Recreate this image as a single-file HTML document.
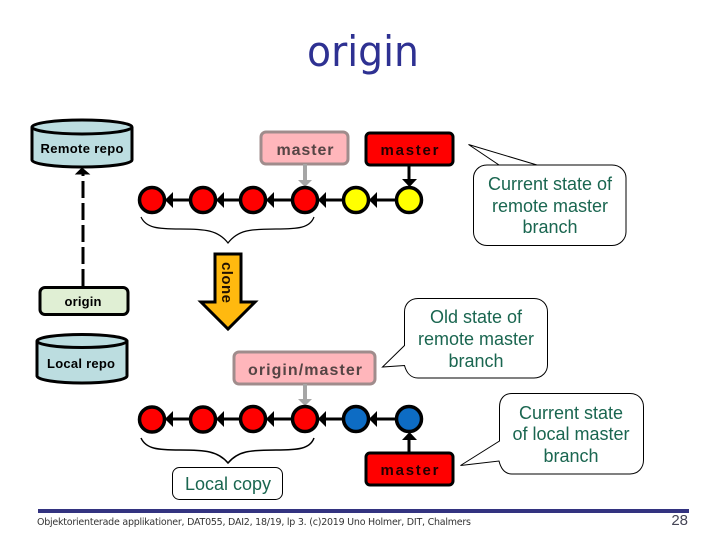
<!DOCTYPE html>
<html><head><meta charset="utf-8"><style>
html,body{margin:0;padding:0;background:#fff;width:720px;height:540px;overflow:hidden}
svg{display:block}
.c{font-family:"Liberation Sans",sans-serif;font-weight:bold}
.g{font-family:"Liberation Sans",sans-serif;fill:#1a6650;font-size:18px;text-anchor:middle}
</style></head><body>
<svg width="720" height="540" viewBox="0 0 720 540" xmlns="http://www.w3.org/2000/svg">
<text x="363" y="66" font-family="'DejaVu Sans',sans-serif" font-size="42" fill="#2e3192" text-anchor="middle" textLength="112" lengthAdjust="spacingAndGlyphs">origin</text>

<!-- Remote repo -->
<path d="M32 127V160C32 164 55 167 82 167S132 164 132 160V127" fill="#bcdde0" stroke="#000" stroke-width="3"/>
<ellipse cx="82" cy="127" rx="50" ry="7" fill="#bcdde0" stroke="#000" stroke-width="3"/>
<text x="82" y="153" class="c" font-size="13" text-anchor="middle" textLength="83" lengthAdjust="spacing">Remote repo</text>

<!-- dashed -->
<path d="M83 286V174" stroke="#000" stroke-width="3" stroke-dasharray="17 5" fill="none"/>
<path d="M76 174L82 168L89 174Z" fill="#000" stroke="#000" stroke-width="1"/>

<!-- origin box -->
<rect x="40" y="287.500" width="88" height="27" rx="5" fill="#e0efd4" stroke="#000" stroke-width="3"/>
<text x="83" y="306" class="c" font-size="13" text-anchor="middle" textLength="37">origin</text>

<!-- Local repo -->
<path d="M37 341V376C37 380 58 383 82 383S127 380 127 376V341" fill="#bcdde0" stroke="#000" stroke-width="3"/>
<ellipse cx="82" cy="341" rx="45" ry="6.500" fill="#bcdde0" stroke="#000" stroke-width="3"/>
<text x="81" y="368" class="c" font-size="13" text-anchor="middle" textLength="68">Local repo</text>

<!-- Top pink master -->
<rect x="261" y="132" width="87" height="32" rx="5" fill="#ffb6bb" stroke="#a08c8c" stroke-width="3"/>
<text x="305" y="155" class="c" font-size="16" fill="#554444" text-anchor="middle" textLength="57">master</text>
<path d="M305 164V181" stroke="#a6a6a6" stroke-width="4"/>
<path d="M298 180H312L305 187Z" fill="#a6a6a6"/>

<!-- Top red master -->
<rect x="366" y="133" width="87" height="32" rx="4" fill="#ff0000" stroke="#000" stroke-width="3"/>
<text x="409.500" y="155" class="c" font-size="15" fill="#220000" text-anchor="middle" textLength="58">master</text>
<path d="M409 165V181" stroke="#000" stroke-width="3"/>
<path d="M402 179H417L409.500 187Z" fill="#000"/>

<!-- Row 1 connectors -->
<g stroke="#000" stroke-width="3">
<path d="M165 200H190M216 200H240M266 200H292M318 200H343M369 200H396"/>
</g>
<g fill="#000">
<path d="M165 200L173 192V208Z"/><path d="M216 200L224 192V208Z"/><path d="M266 200L274 192V208Z"/><path d="M318 200L326 192V208Z"/><path d="M369 200L377 192V208Z"/>
</g>
<g stroke="#000" stroke-width="3.500">
<circle cx="152" cy="200" r="12.500" fill="#ff0000"/>
<circle cx="203" cy="200" r="12.500" fill="#ff0000"/>
<circle cx="253" cy="200" r="12.500" fill="#ff0000"/>
<circle cx="305" cy="200" r="12.500" fill="#ff0000"/>
<circle cx="356" cy="200" r="12.500" fill="#ffff00"/>
<circle cx="409" cy="200" r="12.500" fill="#ffff00"/>
</g>

<!-- Brace 1 -->
<path d="M141 217C146 228 158 229 180 229C205 229 218 230 228 243C238 230 250 229 276 229C298 229 310 228 314 217" fill="none" stroke="#000" stroke-width="1.200"/>

<!-- Clone arrow -->
<path d="M215 254H241V302H255L228 329L201 302H215Z" fill="#ffb90f" stroke="#000" stroke-width="3"/>
<text transform="translate(222,262) rotate(90)" class="c" font-size="15" fill="#221100" textLength="41">clone</text>

<!-- origin/master -->
<rect x="234" y="352" width="141" height="32" rx="5" fill="#ffb6bb" stroke="#a08c8c" stroke-width="3"/>
<text x="305" y="375" class="c" font-size="16" fill="#554444" text-anchor="middle" textLength="114">origin/master</text>
<path d="M305 384V400" stroke="#a6a6a6" stroke-width="4"/>
<path d="M298 399H312L305 406Z" fill="#a6a6a6"/>

<!-- Row 2 connectors -->
<g stroke="#000" stroke-width="3">
<path d="M165 419H190M216 419H240M266 419H292M318 419H343M369 419H396"/>
<path d="M409 452V438"/>
</g>
<g fill="#000">
<path d="M165 419L173 411V427Z"/><path d="M216 419L224 411V427Z"/><path d="M266 419L274 411V427Z"/><path d="M318 419L326 411V427Z"/><path d="M369 419L377 411V427Z"/>
<path d="M402 440H417L409.500 432Z"/>
</g>
<g stroke="#000" stroke-width="3.500">
<circle cx="152" cy="419.500" r="12.500" fill="#ff0000"/>
<circle cx="203" cy="419.500" r="12.500" fill="#ff0000"/>
<circle cx="253" cy="419" r="12.500" fill="#ff0000"/>
<circle cx="305" cy="419" r="12.500" fill="#ff0000"/>
<circle cx="356" cy="419" r="12.500" fill="#0d6cc4"/>
<circle cx="409" cy="419" r="12.500" fill="#0d6cc4"/>
</g>

<!-- Brace 2 -->
<path d="M141 438C146 449 158 450 180 450C205 450 218 451 228 463C238 451 250 450 276 450C298 450 310 449 314 438" fill="none" stroke="#000" stroke-width="1.500"/>

<!-- Bottom red master -->
<rect x="366" y="453" width="87" height="32" rx="4" fill="#ff0000" stroke="#000" stroke-width="3"/>
<text x="409.500" y="475" class="c" font-size="15" fill="#220000" text-anchor="middle" textLength="58">master</text>

<!-- Local copy -->
<rect x="172.500" y="467.500" width="110" height="32" rx="7" fill="#fff" stroke="#000" stroke-width="1"/>
<text x="228" y="490" class="g" textLength="86">Local copy</text>

<!-- Callout 1 -->
<path d="M487 165H537L468.500 144.500L499 165H487C479 165 473.500 171 473.500 178V232C473.500 239 479 245.500 487 245.500H612C620 245.500 626 239 626 232V178C626 171 620 165 612 165H537" fill="#fff" stroke="#000" stroke-width="1"/>
<text class="g"><tspan x="550" y="190">Current state of</tspan><tspan x="550" y="212">remote master</tspan><tspan x="550" y="233">branch</tspan></text>

<!-- Callout 2 -->
<path d="M418 298.500H534C542 298.500 547.500 304 547.500 312V365C547.500 372 542 378 534 378H418C411 378 406.500 373 404.500 365.500L382.500 367L404.500 345.500V312C404.500 304 410 298.500 418 298.500Z" fill="#fff" stroke="#000" stroke-width="1"/>
<text class="g"><tspan x="476" y="323">Old state of</tspan><tspan x="476" y="345">remote master</tspan><tspan x="476" y="367">branch</tspan></text>

<!-- Callout 3 -->
<path d="M512 393.500H630C638 393.500 643.500 399 643.500 407V460C643.500 468 638 474 630 474H512C505 474 501 469 499 461L460.500 465.500L499.500 441V407C499.500 399 504 393.500 512 393.500Z" fill="#fff" stroke="#000" stroke-width="1"/>
<text class="g"><tspan x="571" y="419">Current state</tspan><tspan x="571" y="440">of local master</tspan><tspan x="571" y="462">branch</tspan></text>

<!-- Footer -->
<rect x="38" y="509" width="651" height="4" fill="#333380"/>
<text x="37" y="525" font-family="'DejaVu Sans',sans-serif" font-size="9.500" fill="#333" textLength="434" lengthAdjust="spacing">Objektorienterade applikationer, DAT055, DAI2, 18/19, lp 3. (c)2019 Uno Holmer, DIT, Chalmers</text>
<text x="688" y="525" font-family="'Liberation Sans',sans-serif" font-size="15" fill="#445" text-anchor="end">28</text>
</svg>
</body></html>
